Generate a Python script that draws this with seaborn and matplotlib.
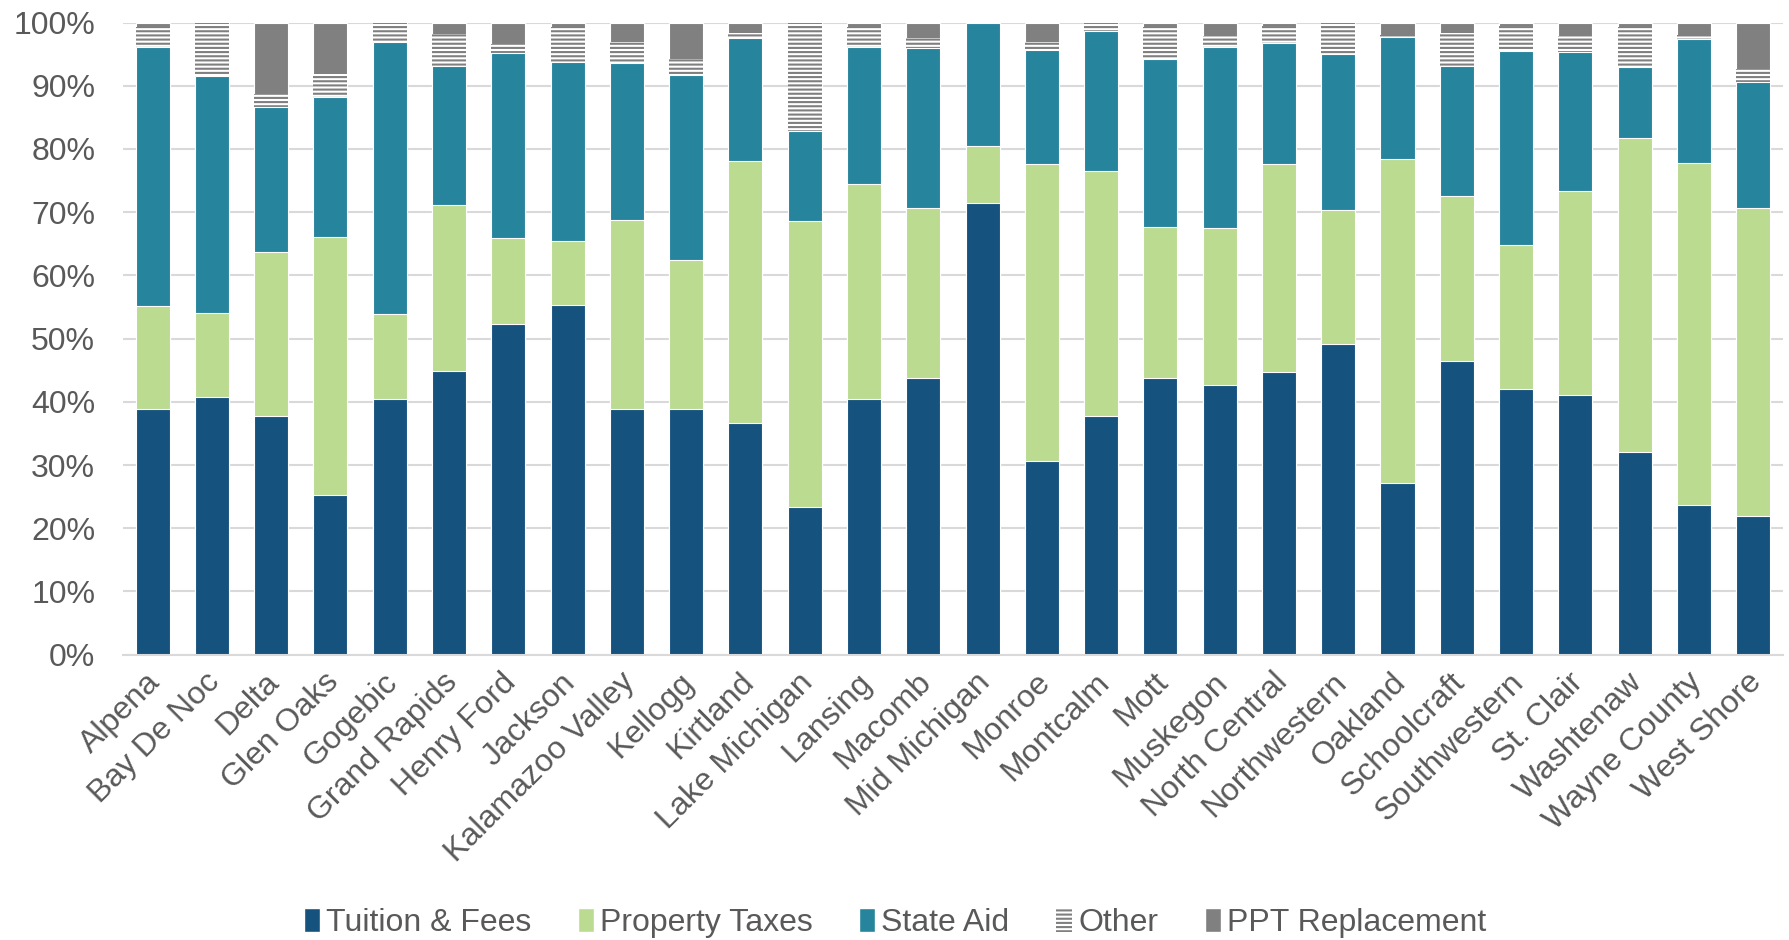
import matplotlib
matplotlib.use('Agg')
import matplotlib.pyplot as plt
import matplotlib.transforms as mtransforms
from matplotlib.patches import Patch
import seaborn as sns
import numpy as np

# community colleges, revenue shares in percent
colleges = ['Alpena', 'Bay De Noc', 'Delta', 'Glen Oaks', 'Gogebic', 'Grand Rapids',
            'Henry Ford', 'Jackson', 'Kalamazoo Valley', 'Kellogg', 'Kirtland',
            'Lake Michigan', 'Lansing', 'Macomb', 'Mid Michigan', 'Monroe', 'Montcalm',
            'Mott', 'Muskegon', 'North Central', 'Northwestern', 'Oakland',
            'Schoolcraft', 'Southwestern', 'St. Clair', 'Washtenaw', 'Wayne County',
            'West Shore']

tuition = [38.9, 40.8, 37.7, 25.3, 40.5, 44.9, 52.3, 55.3, 38.8, 38.9, 36.6, 23.3, 40.5, 43.8,
           71.4, 30.7, 37.7, 43.7, 42.6, 44.8, 49.1, 27.1, 46.5, 42.1, 41.1, 32.1, 23.7, 21.9]
property_taxes = [16.2, 13.3, 26.0, 40.7, 13.4, 26.3, 13.6, 10.1, 30.0, 23.6, 41.5, 45.3, 34.0, 26.9,
                  9.0, 46.9, 38.8, 23.9, 24.9, 32.8, 21.2, 51.3, 26.0, 22.7, 32.2, 49.6, 54.1, 48.8]
state_aid = [41.0, 37.4, 23.0, 22.2, 43.1, 21.9, 29.3, 28.3, 24.8, 29.2, 19.4, 14.3, 21.6, 25.3,
             19.6, 18.0, 22.1, 26.6, 28.6, 19.1, 24.8, 19.3, 20.7, 30.7, 22.1, 11.2, 19.6, 19.9]
other = [3.2, 8.5, 2.0, 3.7, 3.0, 5.1, 1.4, 5.6, 3.4, 2.6, 0.8, 17.1, 3.2, 1.5,
         0.0, 1.4, 1.4, 5.1, 1.7, 2.7, 4.9, 0.3, 5.1, 3.9, 2.5, 6.4, 0.7, 2.0]
ppt_replacement = [0.7, 0.0, 11.3, 8.1, 0.0, 1.8, 3.4, 0.7, 3.0, 5.7, 1.7, 0.0, 0.7, 2.5,
                   0.0, 3.0, 0.0, 0.7, 2.2, 0.6, 0.0, 2.0, 1.7, 0.6, 2.1, 0.7, 1.9, 7.4]

series_names = ['Tuition & Fees', 'Property Taxes', 'State Aid', 'Other', 'PPT Replacement']
series_colors = ['#16527e', '#bbdb91', '#26849c', '#ffffff', '#808080']
text_color = '#595959'
grid_color = '#d9d9d9'
font_size = 23

sns.set_style('white')
plt.rcParams['font.family'] = ['Liberation Sans', 'DejaVu Sans']
plt.rcParams['hatch.linewidth'] = 1.5

fig = plt.figure(figsize=(17.9, 9.4), dpi=100)
ax = fig.add_axes([0.0687, 0.3035, 0.9273, 0.6725])

# stacked bars: draw cumulative totals from the top segment down
segments = np.array([tuition, property_taxes, state_aid, other, ppt_replacement])
cumulative = np.cumsum(segments, axis=0)

bar_width = 0.575
for i in range(4, -1, -1):
    if series_names[i] == 'Other':
        sns.barplot(x=colleges, y=cumulative[i], color='white', saturation=1,
                    width=bar_width, edgecolor='#7f7f7f', linewidth=0,
                    hatch='----', ax=ax, zorder=2)
    else:
        sns.barplot(x=colleges, y=cumulative[i], color=series_colors[i], saturation=1,
                    width=bar_width, edgecolor='white', linewidth=0.8, ax=ax, zorder=2)

ax.set_ylim(0, 100)
ax.set_xlim(-0.5, len(colleges) - 0.5)
yticks = np.arange(0, 101, 10)
ax.set_yticks(yticks)
ax.set_yticklabels([f'{t}%' for t in yticks])
ax.yaxis.grid(True, color=grid_color, linewidth=1.5, zorder=0)
ax.set_axisbelow(True)

for side in ['top', 'right', 'left']:
    ax.spines[side].set_visible(False)
ax.spines['bottom'].set_color(grid_color)
ax.spines['bottom'].set_linewidth(1.5)

ax.tick_params(axis='both', length=0, labelsize=font_size, labelcolor=text_color)
ax.tick_params(axis='y', pad=20)
ax.tick_params(axis='x', pad=9)
# nudge rotated labels a little to the left, like the original
shift = mtransforms.ScaledTranslation(-7 / 100, 0, fig.dpi_scale_trans)
for lbl in ax.get_xticklabels():
    lbl.set_rotation(45)
    lbl.set_ha('right')
    lbl.set_va('top')
    lbl.set_rotation_mode('anchor')
    lbl.set_transform(lbl.get_transform() + shift)
ax.set_xlabel('')
ax.set_ylabel('')

handles = [Patch(facecolor=series_colors[0]), Patch(facecolor=series_colors[1]),
           Patch(facecolor=series_colors[2]),
           Patch(facecolor='white', edgecolor='#7f7f7f', hatch='----', linewidth=0),
           Patch(facecolor=series_colors[4])]
fig.legend(handles, series_names, loc='center', bbox_to_anchor=(0.5, 0.018), ncol=5,
           frameon=False, fontsize=font_size, labelcolor=text_color, handlelength=0.5,
           handleheight=0.8, handletextpad=0.2, columnspacing=1.45)

plt.savefig('out.png', dpi=100)
plt.close()
